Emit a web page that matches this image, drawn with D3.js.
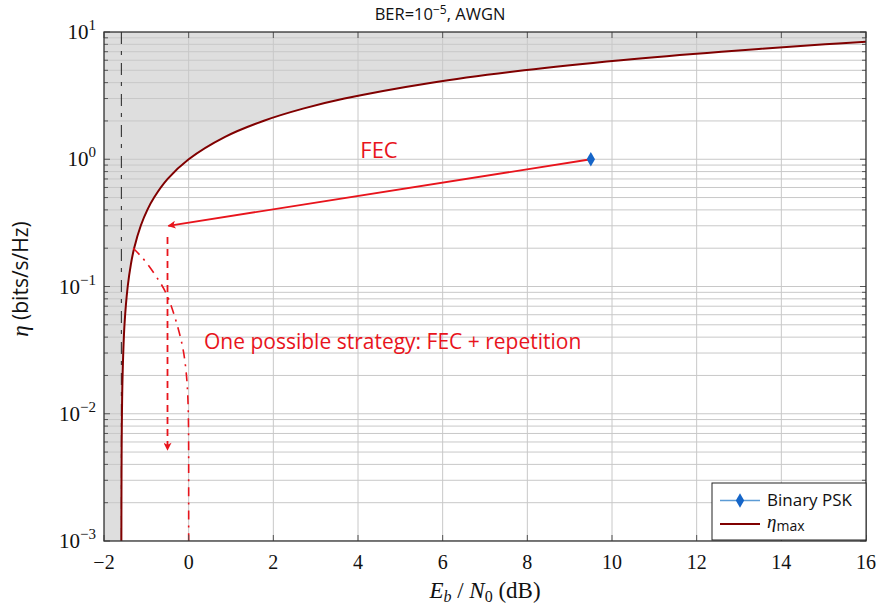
<!DOCTYPE html>
<html><head><meta charset="utf-8">
<script src="https://cdn.jsdelivr.net/npm/d3@7"></script>
<style>
body{margin:0;background:#fff;}
svg{display:block;}
</style></head>
<body>
<svg id="c" width="878" height="605"></svg>
<script>
// ---- data ----
const xTicks = [-2, 0, 2, 4, 6, 8, 10, 12, 14, 16];
const yTickExps = [-3, -2, -1, 0, 1];
// eta_max curve (Shannon bound)
const etaMaxEta = [0.001, 0.002, 0.005, 0.01, 0.02, 0.05, 0.1, 0.15, 0.2, 0.3, 0.4, 0.5, 0.7, 1, 1.5, 2, 2.5, 3, 4, 5, 6, 7, 8, 8.4];
const etaMaxDb  = [-1.590, -1.588, -1.584, -1.576, -1.561, -1.516, -1.440, -1.364, -1.288, -1.132, -0.976, -0.817, -0.496, 0, 0.860, 1.761, 2.701, 3.680, 5.740, 7.924, 10.212, 12.587, 15.034, 16.031];
// Binary PSK point
const bpskDb = [9.5];
const bpskEta = [1.0];
// Shannon limit vertical line
const shannonLimitDb = -1.59;
// FEC + repetition strategy curve (dash-dot)
const repDb  = [-1.31, -1.02, -0.68, -0.48, -0.25, -0.1, -0.02, 0, 0, 0];
const repEta = [0.2, 0.16, 0.109, 0.084, 0.048, 0.030, 0.016, 0.008, 0.003, 0.001];
// arrows
const fecArrowDb = [9.5, -0.48];
const fecArrowEta = [1.0, 0.3];
const repArrowDb = [-0.5, -0.5];
const repArrowEta = [0.245, 0.0052];

// ---- layout ----
const L = 104, R = 866, T = 32, B = 541;
const svg = d3.select('#c');
const x = d3.scaleLinear().domain([-2, 16]).range([L, R]);
const y = d3.scaleLog().domain([1e-3, 10]).range([B, T]);

const red = '#e8141c', dark = '#800000', grid = '#c8c8c8';
const serif = "'Liberation Serif', 'DejaVu Serif', serif";
const sans = "'Open Sans', Lato, sans-serif";

const defs = svg.append('defs');
defs.append('clipPath').attr('id', 'clip').append('rect').attr('x', L).attr('y', T).attr('width', R - L).attr('height', B - T);
defs.append('marker').attr('id', 'arr').attr('viewBox', '0 0 10 10').attr('refX', 9).attr('refY', 5)
  .attr('markerWidth', 10).attr('markerHeight', 8).attr('markerUnits', 'userSpaceOnUse').attr('orient', 'auto')
  .append('path').attr('d', 'M0,0 L10,5 L0,10 L2.5,5 Z').attr('fill', red);

const plot = svg.append('g').attr('clip-path', 'url(#clip)');

// shaded unachievable region
const curvePts = etaMaxDb.map((d, i) => [x(d), y(etaMaxEta[i])]);
const lineGen = d3.line().curve(d3.curveCatmullRom.alpha(0.5));
const curveD = lineGen(curvePts);
const lastPt = curvePts[curvePts.length - 1];
const shadeD = curveD + `L${lastPt[0]},${T - 5}L${L},${T - 5}L${L},${B + 5}L${curvePts[0][0]},${B + 5}Z`;
plot.append('path').attr('d', shadeD).attr('fill', '#dedede');

// horizontal grid (major + minor)
const yGridVals = [];
for (let e = -3; e < 1; e++) for (let m = 1; m <= 9; m++) yGridVals.push(m * Math.pow(10, e));
yGridVals.push(10);
plot.append('g').selectAll('line').data(yGridVals).join('line')
  .attr('x1', L).attr('x2', R).attr('y1', d => y(d)).attr('y2', d => y(d))
  .attr('stroke', grid).attr('stroke-width', 1);
// vertical grid
plot.append('g').selectAll('line').data(xTicks).join('line')
  .attr('y1', T).attr('y2', B).attr('x1', d => x(d)).attr('x2', d => x(d))
  .attr('stroke', grid).attr('stroke-width', 1);

// axis tick marks (inward)
const tickG = svg.append('g').attr('stroke', '#555').attr('stroke-width', 1);
yGridVals.forEach(v => {
  const isMajor = Math.abs(Math.log10(v) - Math.round(Math.log10(v))) < 1e-9;
  const len = isMajor ? 6 : 4;
  tickG.append('line').attr('x1', L).attr('x2', L + len).attr('y1', y(v)).attr('y2', y(v));
  tickG.append('line').attr('x1', R).attr('x2', R - len).attr('y1', y(v)).attr('y2', y(v));
});
xTicks.forEach(v => {
  tickG.append('line').attr('x1', x(v)).attr('x2', x(v)).attr('y1', B).attr('y2', B - 6);
  tickG.append('line').attr('x1', x(v)).attr('x2', x(v)).attr('y1', T).attr('y2', T + 6);
});

// Shannon limit vertical line
plot.append('line').attr('x1', x(shannonLimitDb)).attr('x2', x(shannonLimitDb)).attr('y1', T).attr('y2', B)
  .attr('stroke', '#222').attr('stroke-width', 1).attr('stroke-dasharray', '12,7,4,8');

// eta_max curve
plot.append('path').attr('d', curveD).attr('fill', 'none').attr('stroke', dark).attr('stroke-width', 2);

// repetition dash-dot curve
const repGen = d3.line().curve(d3.curveBasis);
plot.append('path').attr('d', repGen(repDb.map((d, i) => [x(d), y(repEta[i])])))
  .attr('fill', 'none').attr('stroke', red).attr('stroke-width', 1.6).attr('stroke-dasharray', '9,6,2,6');

// FEC arrow
svg.append('line').attr('x1', x(fecArrowDb[0])).attr('y1', y(fecArrowEta[0]))
  .attr('x2', x(fecArrowDb[1])).attr('y2', y(fecArrowEta[1]))
  .attr('stroke', red).attr('stroke-width', 1.8).attr('marker-end', 'url(#arr)');
// repetition dashed arrow
svg.append('line').attr('x1', x(repArrowDb[0])).attr('y1', y(repArrowEta[0]))
  .attr('x2', x(repArrowDb[1])).attr('y2', y(repArrowEta[1]))
  .attr('stroke', red).attr('stroke-width', 1.8).attr('stroke-dasharray', '7,5').attr('marker-end', 'url(#arr)');

// BPSK point
const diamond = d3.symbol().type(d3.symbolDiamond).size(60);
svg.append('g').selectAll('path').data(bpskDb).join('path')
  .attr('d', diamond).attr('transform', (d, i) => `translate(${x(d)},${y(bpskEta[i])})`)
  .attr('fill', '#1565c8');

// frame
svg.append('rect').attr('x', L).attr('y', T).attr('width', R - L).attr('height', B - T)
  .attr('fill', 'none').attr('stroke', '#333').attr('stroke-width', 1.3);

// x tick labels
svg.append('g').selectAll('text').data(xTicks).join('text')
  .attr('x', d => x(d)).attr('y', 569).attr('text-anchor', 'middle')
  .attr('font-family', serif).attr('font-size', 20).attr('fill', '#111')
  .text(d => d < 0 ? '\u2212' + Math.abs(d) : d);

// y tick labels
const yl = svg.append('g');
yTickExps.forEach(e => {
  const t = yl.append('text').attr('x', 96).attr('y', y(Math.pow(10, e)) + 7).attr('text-anchor', 'end')
    .attr('font-family', serif).attr('font-size', 21).attr('fill', '#111');
  t.append('tspan').text('10');
  t.append('tspan').attr('dy', -9).attr('font-size', 15).text(e < 0 ? '\u2212' + Math.abs(e) : e);
});

// title
const title = svg.append('text').attr('x', 440).attr('y', 20).attr('text-anchor', 'middle')
  .attr('font-family', sans).attr('font-size', 16.5).attr('fill', '#111');
title.append('tspan').text('BER=10');
title.append('tspan').attr('dy', -6).attr('font-size', 12).text('\u22125');
title.append('tspan').attr('dy', 6).text(', AWGN');

// x label
const xl = svg.append('text').attr('x', 485).attr('y', 598).attr('text-anchor', 'middle')
  .attr('font-family', serif).attr('font-size', 23).attr('fill', '#111');
xl.append('tspan').attr('font-style', 'italic').text('E');
xl.append('tspan').attr('font-style', 'italic').attr('font-size', 16).attr('dy', 4).text('b');
xl.append('tspan').attr('dy', -4).text(' / ');
xl.append('tspan').attr('font-style', 'italic').text('N');
xl.append('tspan').attr('font-size', 16).attr('dy', 4).text('0');
xl.append('tspan').attr('dy', -4).text(' (dB)');

// y label
const ylab = svg.append('text').attr('transform', 'translate(28,279) rotate(-90)').attr('text-anchor', 'middle')
  .attr('font-family', sans).attr('font-size', 21).attr('fill', '#111');
ylab.append('tspan').attr('font-family', serif).attr('font-style', 'italic').attr('font-size', 23).text('\u03b7');
ylab.append('tspan').text(' (bits/s/Hz)');

// annotations
svg.append('text').attr('x', 379).attr('y', 158).attr('text-anchor', 'middle')
  .attr('font-family', sans).attr('font-size', 22).attr('fill', red).text('FEC');
svg.append('text').attr('x', 204).attr('y', 349)
  .attr('font-family', sans).attr('font-size', 21).attr('fill', red).text('One possible strategy: FEC + repetition');

// legend
const lg = svg.append('g');
lg.append('rect').attr('x', 712).attr('y', 483).attr('width', 154).attr('height', 57)
  .attr('fill', '#fff').attr('stroke', '#222').attr('stroke-width', 1);
lg.append('line').attr('x1', 720).attr('x2', 760).attr('y1', 500.5).attr('y2', 500.5).attr('stroke', '#5b9bd5').attr('stroke-width', 1.5);
lg.append('path').attr('d', diamond).attr('transform', 'translate(740,500.5)').attr('fill', '#1565c8');
lg.append('line').attr('x1', 720).attr('x2', 760).attr('y1', 524).attr('y2', 524).attr('stroke', dark).attr('stroke-width', 1.8);
lg.append('text').attr('x', 767).attr('y', 506).attr('font-family', sans).attr('font-size', 17).attr('fill', '#111').text('Binary PSK');
const l2 = lg.append('text').attr('x', 767).attr('y', 528).attr('font-family', serif).attr('font-size', 19).attr('fill', '#111');
l2.append('tspan').attr('font-style', 'italic').text('\u03b7');
l2.append('tspan').attr('font-family', sans).attr('font-size', 14).attr('dy', 3).text('max');
</script>
</body></html>
